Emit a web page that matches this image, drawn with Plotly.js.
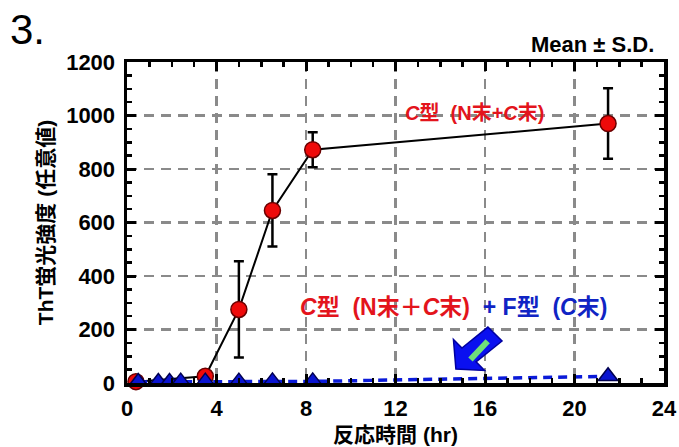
<!DOCTYPE html>
<html>
<head>
<meta charset="utf-8">
<script src="https://cdn.plot.ly/plotly-3.0.1.min.js"></script>
<style>html,body{margin:0;padding:0;background:#fff;}#chart{width:679px;height:447px;}</style>
</head>
<body>
<div id="chart"></div>
<script>
// ---- data ----
const timeC = [0.4, 3.5, 5.0, 6.5, 8.3, 21.5];        // hr
const thtC  = [5, 25, 275, 645, 872, 970];            // C型 (N末+C末)
const sdC   = [0, 5, 180, 135, 65, 132];
const timeCF = [0.5, 1.4, 1.9, 2.4, 3.5, 5.0, 6.5, 8.3, 21.5];
const thtCF  = [4, 4, 4, 5, 5, 5, 6, 6, 25];          // C型 + F型
const xTicks = [0, 4, 8, 12, 16, 20, 24];
const yTicks = [0, 200, 400, 600, 800, 1000, 1200];

// fat arrow (decoration) in data units
const arrowX = [14.70, 14.59, 14.97, 16.13, 16.76, 15.60, 15.98];
const arrowY = [52, 163, 131, 209, 157, 79, 47];
const barX = [15.35, 16.12];
const barY = [88, 156];

const fontLat = '"Liberation Sans", Arial, "Noto Sans CJK JP", sans-serif';
const fontJP = '"Liberation Sans", "Noto Sans CJK JP", sans-serif';

const traces = [
  {
    x: timeC, y: thtC, type: 'scatter', mode: 'lines+markers',
    line: {color: '#000', width: 2},
    marker: {symbol: 'circle', size: 16, color: '#ee0a0a', line: {color: '#6a0000', width: 1.5}},
    error_y: {type: 'data', array: sdC, visible: true, color: '#000', thickness: 2.5, width: 5},
    cliponaxis: false, showlegend: false
  },
  {
    x: timeCF, y: thtCF, type: 'scatter', mode: 'lines+markers',
    line: {color: '#0a1ad8', width: 3.5, dash: '9px,6px'},
    marker: {symbol: 'triangle-up', size: 17, color: '#0a14d0', line: {color: '#000050', width: 1.5}},
    cliponaxis: false, showlegend: false
  },
  { x: [], y: [], xaxis: 'x2', yaxis: 'y2', type: 'scatter', mode: 'markers', showlegend: false, hoverinfo: 'skip' }
];

function pathFrom(xs, ys) {
  return 'M' + xs.map((v, i) => v + ',' + ys[i]).join(' L') + ' Z';
}

const tickFont = {family: fontLat, size: 22, color: '#000', weight: 'bold'};
const axisCommon = {
  showline: true, linecolor: '#000', linewidth: 3.5, mirror: true,
  ticks: 'inside', ticklen: 9, tickwidth: 3, tickcolor: '#000',
  showgrid: true, gridcolor: '#8a8a8a', gridwidth: 2.5, griddash: '10px,7px',
  zeroline: false, tickfont: tickFont
};
const xMinor = {dtick: 1, ticks: 'inside', ticklen: 5, tickwidth: 2.5, tickcolor: '#000', showgrid: false};
const yMinor = {dtick: 50, ticks: 'inside', ticklen: 5, tickwidth: 2.5, tickcolor: '#000', showgrid: false};

const layout = {
  width: 679, height: 447,
  margin: {l: 127, r: 15, t: 62, b: 64},
  paper_bgcolor: '#fff', plot_bgcolor: '#fff',
  xaxis: Object.assign({}, axisCommon, {
    range: [0, 24], tickvals: xTicks, ticktext: xTicks.map(String),
    minor: xMinor, ticklabelstandoff: 3,
    title: {text: '<b>反応時間 (hr)</b>', font: {family: fontJP, size: 21, color: '#000'}, standoff: 8}
  }),
  yaxis: Object.assign({}, axisCommon, {
    range: [0, 1200], tickvals: yTicks, ticktext: yTicks.map(String),
    minor: yMinor, ticklabelstandoff: 4,
    title: {text: '<b>ThT蛍光強度 (任意値)</b>', font: {family: fontJP, size: 21, color: '#000'}, standoff: 8}
  }),
  xaxis2: {overlaying: 'x', side: 'top', range: [0, 24], tickvals: xTicks, showticklabels: false,
    ticks: 'inside', ticklen: 9, tickwidth: 3, tickcolor: '#000', minor: xMinor,
    showgrid: false, showline: false, zeroline: false},
  yaxis2: {overlaying: 'y', side: 'right', range: [0, 1200], tickvals: yTicks, showticklabels: false,
    ticks: 'inside', ticklen: 9, tickwidth: 3, tickcolor: '#000', minor: yMinor,
    showgrid: false, showline: false, zeroline: false},
  shapes: [
    {type: 'path', xref: 'x', yref: 'y', path: pathFrom(arrowX, arrowY),
     fillcolor: '#0a10f0', line: {color: '#0000a0', width: 1.5}},
    {type: 'line', xref: 'x', yref: 'y', x0: barX[0], y0: barY[0], x1: barX[1], y1: barY[1],
     line: {color: '#6fe07a', width: 6}}
  ],
  annotations: [
    {xref: 'paper', yref: 'paper', x: -0.222, y: 1.1, xanchor: 'left', yanchor: 'middle',
     text: '3.', showarrow: false, font: {family: fontLat, size: 42, color: '#000'}},
    {xref: 'paper', yref: 'paper', x: 0.985, y: 1.053, xanchor: 'right', yanchor: 'middle',
     text: '<b>Mean ± S.D.</b>', showarrow: false, font: {family: fontLat, size: 22, color: '#000'}},
    {xref: 'x', yref: 'y', x: 12.35, y: 1010, xanchor: 'left', yanchor: 'middle', showarrow: false,
     text: '<b><i>C</i>型&nbsp; (N末+<i>C</i>末)</b>', font: {family: fontJP, size: 20, color: '#e3141c'}},
    {xref: 'x', yref: 'y', x: 7.65, y: 284, xanchor: 'left', yanchor: 'middle', showarrow: false,
     text: '<b><i>C</i>型&nbsp; (N末＋<i>C</i>末)</b><span style="color:#1024c4"><b>&nbsp; + F型&nbsp; (<i>C</i>末)</b></span>',
     font: {family: fontJP, size: 23, color: '#e3141c'}}
  ]
};

Plotly.newPlot('chart', traces, layout, {displayModeBar: false, staticPlot: true});
</script>
</body>
</html>
